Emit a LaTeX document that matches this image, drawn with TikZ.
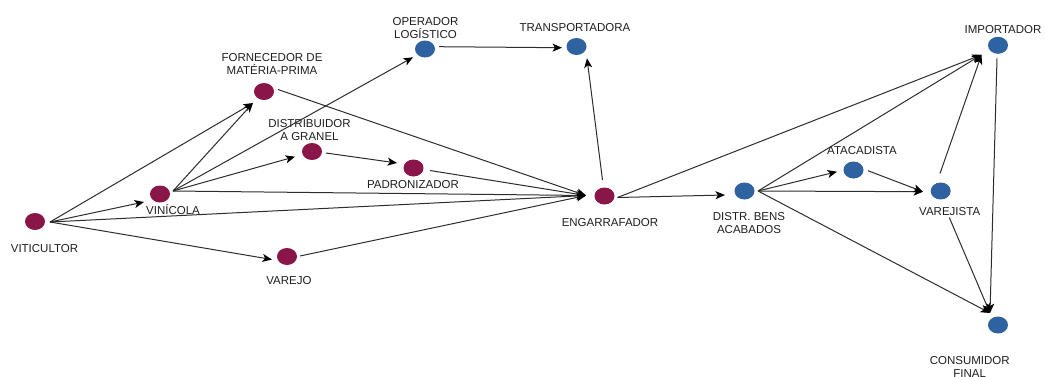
\documentclass[tikz,border=0pt]{standalone}
\usepackage{fontspec}
\setmainfont{Liberation Sans}
\usetikzlibrary{shapes.geometric,arrows.meta,calc}

\definecolor{wine}{RGB}{138,21,72}
\definecolor{steel}{RGB}{46,98,160}
\definecolor{linegray}{RGB}{45,45,45}
\definecolor{labelgray}{RGB}{30,30,30}

\tikzset{
  dot/.style={ellipse, minimum width=20pt, minimum height=17pt, inner sep=0pt, draw=none},
  winedot/.style={dot, fill=wine},
  bluedot/.style={dot, fill=steel},
  % base anchor of a two-line label sits on its last line
  lbl/.style={anchor=base, inner sep=0pt, align=center, text=labelgray,
              font=\fontsize{11.5}{13.3}\selectfont},
  edge/.style={draw=linegray, line width=1pt,
               -{Stealth[length=9.5pt, width=8pt, inset=2.5pt, color=black]}}
}

\begin{document}
\begin{tikzpicture}[x=1pt, y=-1pt]
\useasboundingbox (0,0) rectangle (1045,376);

% supply chain stages
\node[winedot] (vit)   at (35,221.5)  {};
\node[winedot] (vin)   at (160,194)   {};
\node[winedot] (forn)  at (264,91.5)  {};
\node[winedot] (dist)  at (312,151.5) {};
\node[winedot] (padr)  at (413.5,168) {};
\node[winedot] (varejo) at (287,256.5) {};
\node[winedot] (eng)   at (604.5,196) {};
\node[bluedot] (oper)  at (425,49)    {};
\node[bluedot] (trans) at (576.5,46.5) {};
\node[bluedot] (dbens) at (744.5,191) {};
\node[bluedot] (atac)  at (853.5,170) {};
\node[bluedot] (varj)  at (940.7,191) {};
\node[bluedot] (imp)   at (998,45.3)  {};
\node[bluedot] (cons)  at (998,325)   {};

% labels
\node[lbl] at (44.5,252.3) {VITICULTOR};
\node[lbl] at (173,214) {VINÍCOLA};
\node[lbl] at (272,74.5) {FORNECEDOR DE\\MATÉRIA-PRIMA};
\node[lbl] at (309.5,140.7) {DISTRIBUIDOR\\A GRANEL};
\node[lbl] at (413,188.3) {PADRONIZADOR};
\node[lbl] at (289,284) {VAREJO};
\node[lbl] at (425.5,38.3) {OPERADOR\\LOGÍSTICO};
\node[lbl] at (575,31) {TRANSPORTADORA};
\node[lbl] at (610,226.5) {ENGARRAFADOR};
\node[lbl] at (749,233.5) {DISTR. BENS\\ACABADOS};
\node[lbl] at (862,154) {ATACADISTA};
\node[lbl] at (949.7,215) {VAREJISTA};
\node[lbl] at (1003,33.3) {IMPORTADOR};
\node[lbl] at (969.7,377.8) {CONSUMIDOR\\FINAL};

% flows out of the grower
\draw[edge] ($(vit.center)+(15,0.5)$) -- ($(vin.center)+(-16,8)$);
\draw[edge] ($(vit.center)+(15,0.5)$) -- ($(forn.center)+(-11,11.5)$);
\draw[edge] ($(vit.center)+(15,0.5)$) -- ($(eng.center)+(-18.5,-0.5)$);
\draw[edge] ($(vit.center)+(15,0.5)$) -- ($(varejo.center)+(-15,3)$);

% flows out of the winery
\draw[edge] ($(vin.center)+(13,-3)$) -- ($(forn.center)+(-11,11.5)$);
\draw[edge] ($(vin.center)+(13,-3)$) -- ($(oper.center)+(-12,8.3)$);
\draw[edge] ($(vin.center)+(13,-3)$) -- ($(dist.center)+(-17,5.2)$);
\draw[edge] ($(vin.center)+(13,-3)$) -- ($(eng.center)+(-18.5,-0.5)$);

% bulk wine and raw material into bottling
\draw[edge] ($(dist.center)+(14,1.5)$) -- ($(padr.center)+(-16.5,-5)$);
\draw[edge] ($(padr.center)+(16.5,2.5)$) -- ($(eng.center)+(-18.5,-0.5)$);
\draw[edge] ($(forn.center)+(14,-2)$) -- ($(eng.center)+(-18.5,-0.5)$);
\draw[edge] ($(varejo.center)+(13,-0.5)$) -- ($(eng.center)+(-18.5,-0.5)$);

% logistics
\draw[edge] ($(oper.center)+(14,-2.3)$) -- ($(trans.center)+(-14.5,1.2)$);
\draw[edge] ($(eng.center)+(-2,-16)$) -- ($(trans.center)+(10.5,11.8)$);

% distribution of the finished product
\draw[edge] ($(eng.center)+(13,1.5)$) -- ($(dbens.center)+(-19.5,4)$);
\draw[edge] ($(eng.center)+(13,1.5)$) -- ($(imp.center)+(-16.5,9.5)$);
\draw[edge] ($(dbens.center)+(13.5,0)$) -- ($(imp.center)+(-16.5,9.5)$);
\draw[edge] ($(dbens.center)+(13.5,0)$) -- ($(atac.center)+(-16.5,1.7)$);
\draw[edge] ($(dbens.center)+(13.5,0)$) -- ($(varj.center)+(-17.7,0.7)$);
\draw[edge] ($(dbens.center)+(13.5,0)$) -- ($(cons.center)+(-8,-12)$);
\draw[edge] ($(atac.center)+(14.5,0.7)$) -- ($(varj.center)+(-17.7,0.7)$);
\draw[edge] ($(varj.center)+(-0.7,-17.5)$) -- ($(imp.center)+(-16.5,9.5)$);
\draw[edge] ($(varj.center)+(8.6,26.5)$) -- ($(cons.center)+(-8,-12)$);
\draw[edge] ($(imp.center)+(-1,13)$) -- ($(cons.center)+(-8,-12)$);
\end{tikzpicture}
\end{document}
